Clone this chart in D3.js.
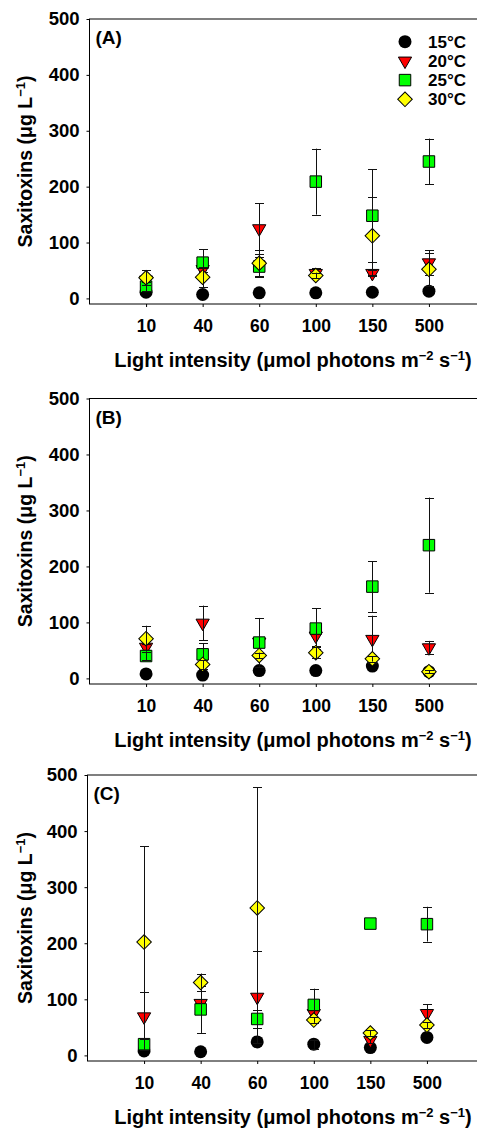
<!DOCTYPE html>
<html><head><meta charset="utf-8">
<script src="https://cdn.jsdelivr.net/npm/d3@7"></script>
<style>
html,body{margin:0;padding:0;background:#fff;}
svg text{font-family:"Liberation Sans",Arial,sans-serif;font-weight:bold;fill:#000;}
</style></head>
<body><svg id="chart" width="477" height="1131"></svg>
<script>
// ---------- data ----------
const categories = ["10", "40", "60", "100", "150", "500"];
const temperatures = ["15°C", "20°C", "25°C", "30°C"];
const yTicks = [0, 100, 200, 300, 400, 500];
const panelLabels = ["(A)", "(B)", "(C)"];

// Panel A
const a15 = [11, 7, 10, 10, 11, 13];
const a15err = [0, 0, 0, 0, 0, 0];
const a20 = [33, 52, 125, 45, 45, 64];
const a20err = [0, 5, 45, 9, 5, 22];
const a25 = [21, 64, 57, 209, 148, 245];
const a25err = [8, 24, 18, 59, 83, 41];
const a30 = [37, 38, 63, 41, 112, 52];
const a30err = [13, 18, 23, 5, 70, 30];

// Panel B
const b15 = [8, 6, 14, 14, 22, 12];
const b15err = [0, 0, 0, 0, 0, 0];
const b20 = [56, 99, 65, 76, 70, 55];
const b20err = [5, 31, 5, 18, 42, 12];
const b25 = [40, 43, 64, 89, 164, 238];
const b25err = [8, 20, 44, 36, 45, 85];
const b30 = [71, 25, 41, 46, 35, 12];
const b30err = [23, 8, 5, 10, 5, 3];

// Panel C
const c15 = [8, 6.5, 24, 20, 14, 32];
const c15err = [0, 0, 0, 8, 0, 0];
const c20 = [69, 93, 104, 75, 27, 75];
const c20err = [44, 7, 82, 8, 5, 16];
const c25 = [20, 82, 65, 90, 235, 234];
const c25err = [10, 42, 16, 29, 0, 31];
const c30 = [202, 130, 263, 63, 40, 54];
const c30err = [171, 16, 215, 5, 5, 5];

// ---------- layout ----------
const panels = [
  {label: panelLabels[0], left: 89.5, top: 19, bottom: 304,
   series: [[a15, a15err], [a20, a20err], [a25, a25err], [a30, a30err]], legend: true},
  {label: panelLabels[1], left: 89.5, top: 398.5, bottom: 684,
   series: [[b15, b15err], [b20, b20err], [b25, b25err], [b30, b30err]], legend: false},
  {label: panelLabels[2], left: 87.5, top: 775, bottom: 1061,
   series: [[c15, c15err], [c20, c20err], [c25, c25err], [c30, c30err]], legend: false}
];

const styles = [
  {fill: "#000000", stroke: "none", type: "circle"},
  {fill: "#ff0000", stroke: "#000", type: "triangle"},
  {fill: "#00ff00", stroke: "#000", type: "square"},
  {fill: "#ffff00", stroke: "#000", type: "diamond"}
];

function symbolPath(type) {
  if (type === "circle") return d3.symbol(d3.symbolCircle, Math.PI * 6.5 * 6.5)();
  if (type === "square") return d3.symbol(d3.symbolSquare, 11.5 * 11.5)();
  if (type === "diamond") return d3.symbol(d3.symbolSquare, 10.3 * 10.3)();
  return d3.symbol(d3.symbolTriangle, 76)();
}
function symbolTransform(type, x, y) {
  if (type === "diamond") return `translate(${x},${y}) rotate(45)`;
  if (type === "triangle") return `translate(${x},${y}) rotate(180)`;
  return `translate(${x},${y})`;
}

const FONT = "'Liberation Sans',Arial,sans-serif";
const svg = d3.select("#chart");

panels.forEach(p => {
  const x = d3.scaleLinear().domain([0, 7]).range([p.left, p.left + 396]);
  const y = d3.scaleLinear().domain([-10, 500]).range([p.bottom, p.top]);
  const g = svg.append("g");

  // frame
  g.append("rect")
    .attr("x", x(0)).attr("y", y(500))
    .attr("width", x(7) - x(0)).attr("height", y(-10) - y(500))
    .attr("fill", "none").attr("stroke", "#000").attr("stroke-width", 1);

  // y axis
  const ya = g.append("g").attr("transform", `translate(${x(0)},0)`)
    .call(d3.axisLeft(y).tickValues(yTicks).tickSize(3).tickPadding(7));
  ya.select(".domain").remove();
  ya.selectAll("text").style("font-size", "18.5px").style("font-family", FONT).style("font-weight", "bold");

  // x axis
  const xa = g.append("g").attr("transform", `translate(0,${y(-10)})`)
    .call(d3.axisBottom(x).tickValues(d3.range(1, categories.length + 1))
      .tickFormat(i => categories[i - 1]).tickSize(3).tickPadding(13));
  xa.select(".domain").remove();
  xa.selectAll("text").style("font-size", "17.5px").style("font-family", FONT).style("font-weight", "bold");

  // axis titles
  const xt = g.append("text")
    .attr("x", 293).attr("y", y(-10) + 63)
    .attr("text-anchor", "middle").style("font-size", "20px");
  xt.append("tspan").text("Light intensity (μmol photons m");
  xt.append("tspan").attr("dy", -7).style("font-size", "13px").text("−2");
  xt.append("tspan").attr("dy", 7).text(" s");
  xt.append("tspan").attr("dy", -7).style("font-size", "13px").text("−1");
  xt.append("tspan").attr("dy", 7).text(")");

  const cy = (y(500) + y(-10)) / 2;
  const yt = g.append("text")
    .attr("transform", `translate(${32},${cy}) rotate(-90)`)
    .attr("text-anchor", "middle").style("font-size", "19.5px");
  yt.append("tspan").text("Saxitoxins (μg L");
  yt.append("tspan").attr("dy", -7).style("font-size", "13px").text("−1");
  yt.append("tspan").attr("dy", 7).text(")");

  // panel label
  g.append("text").attr("x", x(0) + 6).attr("y", y(500) + 25)
    .style("font-size", "19px").text(p.label);

  // series: markers then their error bars
  p.series.forEach((s, si) => {
    const vals = s[0], errs = s[1], st = styles[si];
    const sg = g.append("g");
    sg.selectAll("path.m").data(vals).join("path")
      .attr("class", "m")
      .attr("d", symbolPath(st.type))
      .attr("transform", (v, i) => symbolTransform(st.type, x(i + 1), y(v)))
      .attr("fill", st.fill).attr("stroke", st.stroke).attr("stroke-width", 1);
    const eb = vals.map((v, i) => ({i, v, e: errs[i]})).filter(d => d.e > 0);
    const eg = sg.selectAll("g.eb").data(eb).join("g").attr("class", "eb")
      .attr("stroke", "#111").attr("stroke-width", 1);
    eg.append("line").attr("x1", d => Math.round(x(d.i + 1)) + 0.5).attr("x2", d => Math.round(x(d.i + 1)) + 0.5)
      .attr("y1", d => y(d.v - d.e)).attr("y2", d => y(d.v + d.e));
    eg.append("line").attr("x1", d => Math.round(x(d.i + 1)) - 4).attr("x2", d => Math.round(x(d.i + 1)) + 5)
      .attr("y1", d => Math.round(y(d.v + d.e)) + 0.5).attr("y2", d => Math.round(y(d.v + d.e)) + 0.5);
    eg.append("line").attr("x1", d => Math.round(x(d.i + 1)) - 4).attr("x2", d => Math.round(x(d.i + 1)) + 5)
      .attr("y1", d => Math.round(y(d.v - d.e)) + 0.5).attr("y2", d => Math.round(y(d.v - d.e)) + 0.5);
  });

  // legend
  if (p.legend) {
    temperatures.forEach((t, i) => {
      const ly = 41.7 + i * 19.2;
      const st = styles[i];
      g.append("path").attr("d", symbolPath(st.type))
        .attr("transform", symbolTransform(st.type, 405, ly))
        .attr("fill", st.fill).attr("stroke", st.stroke).attr("stroke-width", 1);
      g.append("text").attr("x", 428).attr("y", ly).attr("dy", "0.36em")
        .style("font-size", "17px").text(t);
    });
  }
});
</script>
</body></html>
